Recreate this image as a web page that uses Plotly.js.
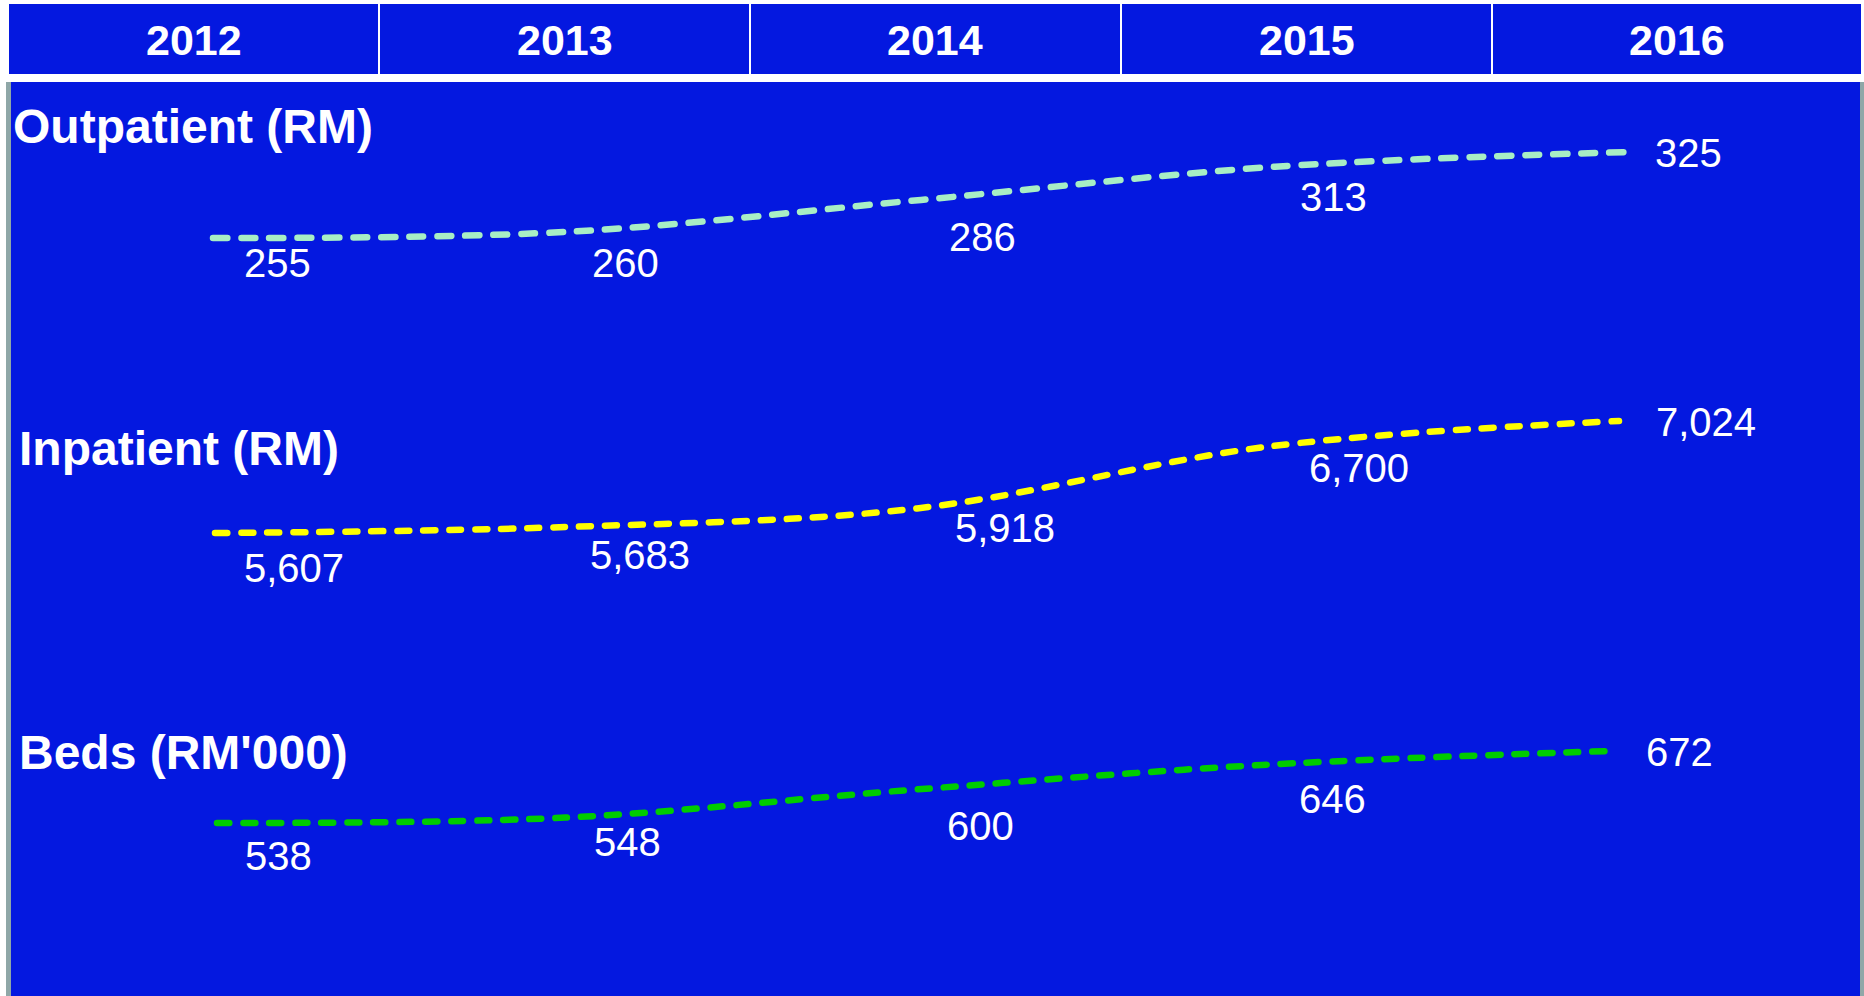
<!DOCTYPE html>
<html>
<head>
<meta charset="utf-8">
<script src="https://cdn.plot.ly/plotly-3.0.1.min.js"></script>
<style>
  html, body { margin: 0; padding: 0; background: #ffffff; }
  #chart { width: 1864px; height: 996px; }
  .js-line, .scatterlayer path { stroke-linecap: round !important; }
</style>
</head>
<body>
<div id="chart"></div>
<script>
// ---- data ----
const years = [2012, 2013, 2014, 2015, 2016];
const seriesNames = ["Outpatient (RM)", "Inpatient (RM)", "Beds (RM'000)"];
const outpatient = [255, 260, 286, 313, 325];
const inpatient = [5607, 5683, 5918, 6700, 7024];
const beds = [538, 548, 600, 646, 672];

// ---- styling / layout helpers ----
const W = 1864, H = 996;
const FONT = 'Arial, "Liberation Sans", sans-serif';
const BLUE = '#0418E0';
const px = v => v / W;            // pixel -> paper x
const py = v => 1 - v / H;        // pixel -> paper y

const series = [
  { vals: outpatient, color: '#A8EEC4', dash: '14px,14px', xa: 'x',  ya: 'y',
    xr: [2011.3983, 2016.6638], yr: [-361.98, 448.72],
    shifts: [[29,25],[23,31],[26,37],[23,30],[24,1]], title: [11, 126] },
  { vals: inpatient, color: '#FFFF00', dash: '12px,14px', xa: 'x2', ya: 'y2',
    xr: [2011.3875, 2016.6980], yr: [-250.8, 12350.4],
    shifts: [[27,35],[22,28],[36,20],[39,21],[35,1]], title: [17, 448] },
  { vals: beds, color: '#00CC00', dash: '12px,14px', xa: 'x3', ya: 'y3',
    xr: [2011.3769, 2016.7294], yr: [216.0, 2069.7],
    shifts: [[26,33],[27,24],[32,36],[35,34],[34,1]], title: [17, 752] }
];

const traces = series.map((s, i) => ({
  type: 'scatter', mode: 'lines', x: years, y: s.vals,
  xaxis: s.xa, yaxis: s.ya, name: seriesNames[i],
  line: { color: s.color, width: 6.5, dash: s.dash, shape: 'spline', smoothing: 1 },
  hoverinfo: 'skip', showlegend: false
}));

const annotations = [];
// header year labels
const colEdges = [9, 379, 750, 1121, 1492, 1861];
years.forEach((yr, i) => {
  annotations.push({
    xref: 'paper', yref: 'paper', x: px((colEdges[i] + colEdges[i + 1]) / 2), y: py(40),
    xanchor: 'center', yanchor: 'middle', showarrow: false,
    text: '<b>' + yr + '</b>', font: { family: FONT, size: 43, color: '#ffffff' }
  });
});
// series titles and value labels
series.forEach((s, i) => {
  annotations.push({
    xref: 'paper', yref: 'paper', x: px(s.title[0]), y: py(s.title[1]),
    xanchor: 'left', yanchor: 'middle', showarrow: false,
    text: '<b>' + seriesNames[i] + '</b>', font: { family: FONT, size: 48, color: '#ffffff' }
  });
  s.vals.forEach((v, j) => {
    annotations.push({
      xref: s.xa, yref: s.ya, x: years[j], y: v,
      xanchor: 'left', yanchor: 'middle', showarrow: false,
      xshift: s.shifts[j][0], yshift: -s.shifts[j][1],
      text: v.toLocaleString('en-US'), font: { family: FONT, size: 40, color: '#ffffff' }
    });
  });
});

const rect = (x0, y0, x1, y1, color) => ({
  type: 'rect', xref: 'paper', yref: 'paper', layer: 'below',
  x0: px(x0), x1: px(x1), y0: py(y1), y1: py(y0),
  fillcolor: color, line: { width: 0 }
});
const shapes = [
  rect(9, 4, 1861, 74, BLUE),          // header band
  rect(11, 82, 1860, 996, BLUE),       // body panel
  rect(6, 82, 11, 996, '#8FA7A7'),     // left edge strip
  rect(1860, 82, 1864, 996, '#8FA7A7') // right edge strip
];
colEdges.slice(1, -1).forEach(e => shapes.push(rect(e - 1, 4, e + 1, 74, '#ffffff')));

const axisBase = { visible: false, showgrid: false, zeroline: false, fixedrange: true, domain: [0, 1] };
const layout = {
  width: W, height: H,
  margin: { l: 0, r: 0, t: 0, b: 0, pad: 0 },
  paper_bgcolor: '#ffffff', plot_bgcolor: 'rgba(0,0,0,0)',
  showlegend: false,
  xaxis:  Object.assign({}, axisBase, { range: series[0].xr }),
  yaxis:  Object.assign({}, axisBase, { range: series[0].yr }),
  xaxis2: Object.assign({}, axisBase, { range: series[1].xr, overlaying: 'x' }),
  yaxis2: Object.assign({}, axisBase, { range: series[1].yr, overlaying: 'y' }),
  xaxis3: Object.assign({}, axisBase, { range: series[2].xr, overlaying: 'x' }),
  yaxis3: Object.assign({}, axisBase, { range: series[2].yr, overlaying: 'y' }),
  shapes: shapes,
  annotations: annotations
};

function roundCaps() {
  document.querySelectorAll('.scatterlayer path').forEach(p => {
    p.style.setProperty('stroke-linecap', 'round', 'important');
    p.setAttribute('stroke-linecap', 'round');
  });
}
Plotly.newPlot('chart', traces, layout, { displayModeBar: false, staticPlot: true }).then(gd => {
  roundCaps();
  gd.on('plotly_afterplot', roundCaps);
});
</script>
</body>
</html>
